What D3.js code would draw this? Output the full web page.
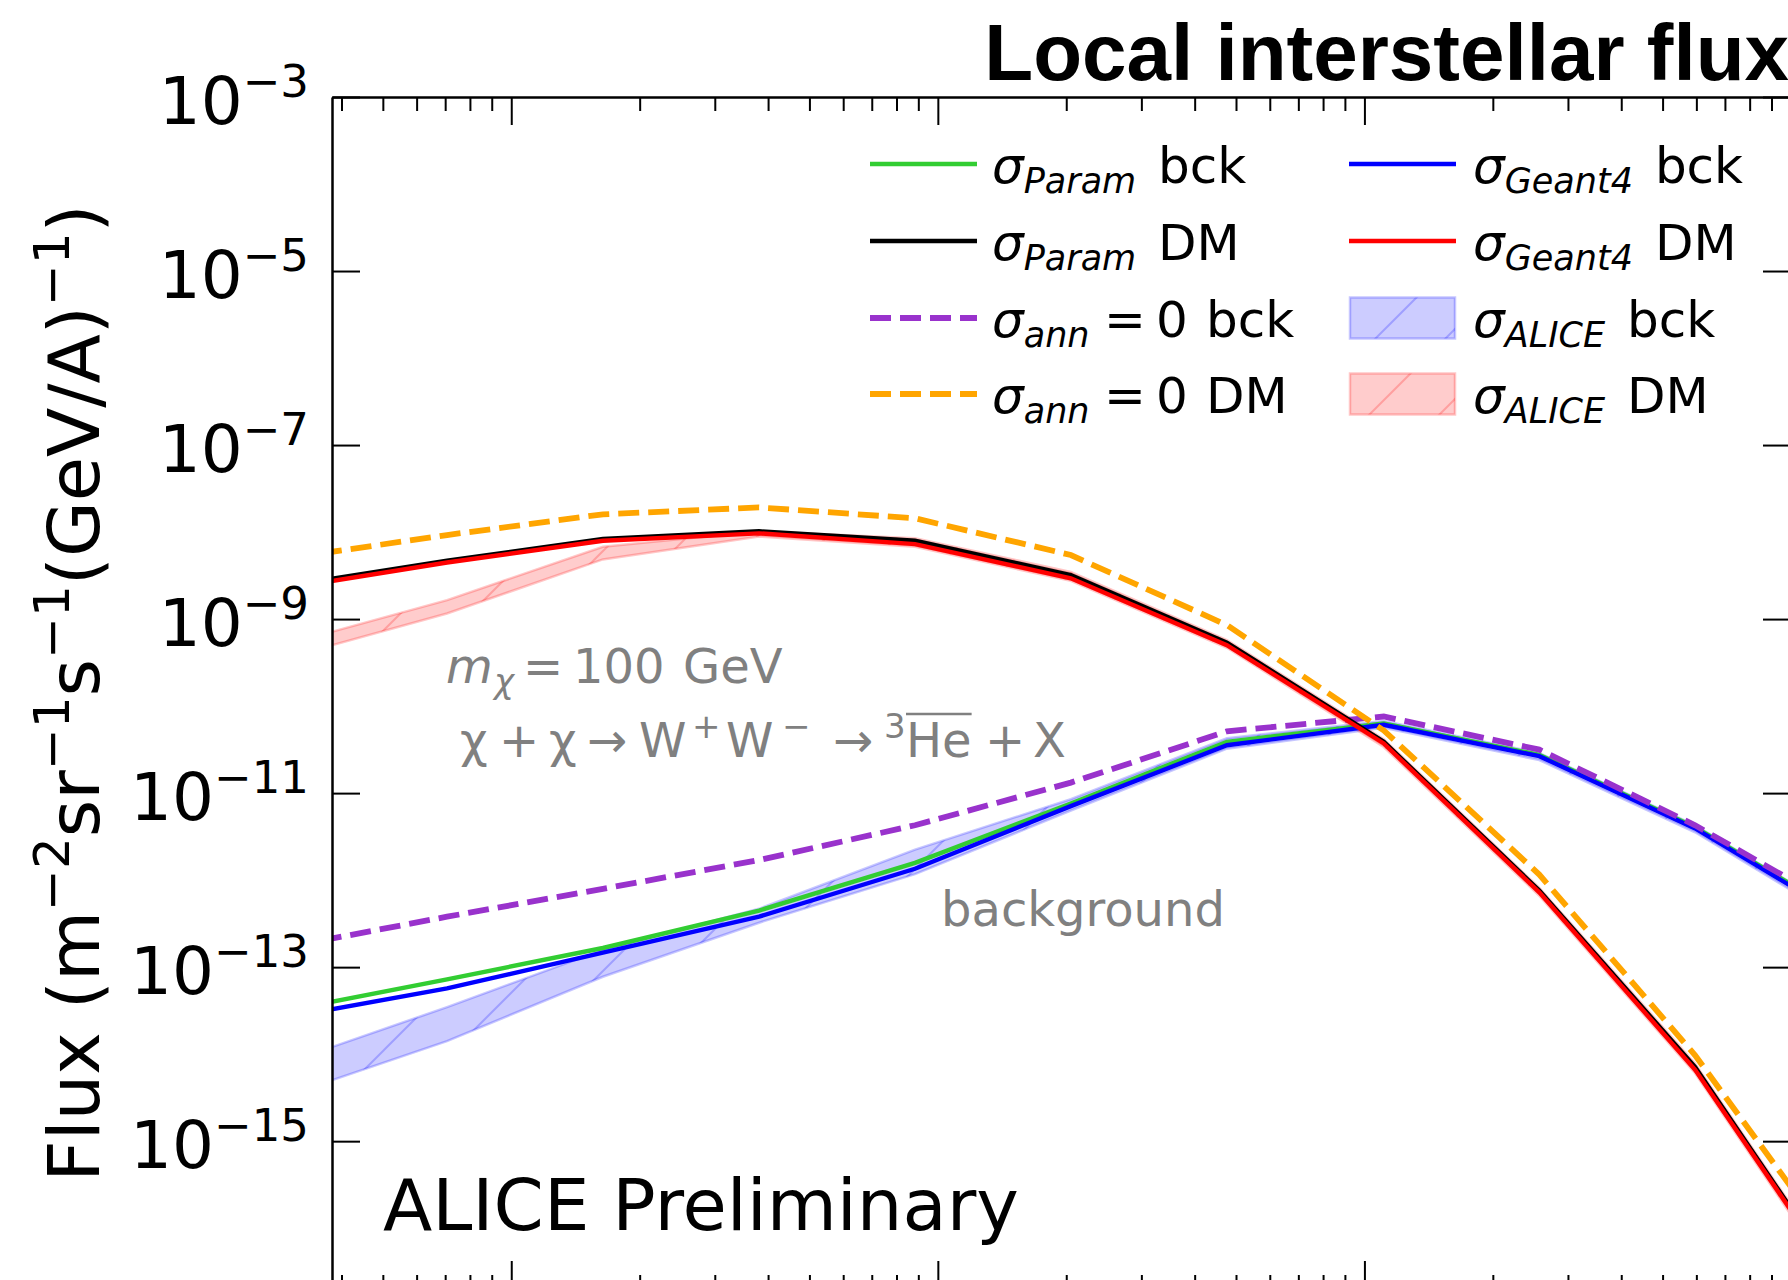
<!DOCTYPE html>
<html>
<head>
<meta charset="utf-8">
<script src="https://cdn.jsdelivr.net/npm/d3@7"></script>
<style>
  html, body { margin: 0; padding: 0; background: #fff; }
  svg { display: block; }
</style>
</head>
<body>
<script>
// Kinetic energy per nucleon (GeV/A) of the flux points
const energies = [0.0305, 0.0707, 0.164, 0.381, 0.884, 2.05, 4.76, 11.1, 25.7, 59.6, 138];

// Background (secondary) anti-3He flux, m^-2 sr^-1 s^-1 (GeV/A)^-1
const paramBck   = [3.24e-14, 7.24e-14, 1.66e-13, 4.47e-13, 1.58e-12, 7.59e-12, 3.89e-11, 6.31e-11, 2.75e-11, 4.07e-12, 3.47e-13];
const geant4Bck  = [2.70e-14, 5.69e-14, 1.47e-13, 3.80e-13, 1.35e-12, 7.08e-12, 3.55e-11, 6.10e-11, 2.66e-11, 3.93e-12, 3.31e-13];
const annZeroBck = [1.74e-13, 3.80e-13, 7.94e-13, 1.70e-12, 4.27e-12, 1.32e-11, 5.13e-11, 7.59e-11, 3.16e-11, 4.27e-12, 4.07e-13];
const aliceBckLow  = [3.47e-15, 1.41e-14, 7.76e-14, 3.24e-13, 1.17e-12, 6.31e-12, 3.24e-11, 5.62e-11, 2.40e-11, 3.55e-12, 2.95e-13];
const aliceBckHigh = [8.32e-15, 3.47e-14, 1.58e-13, 4.68e-13, 2.24e-12, 8.51e-12, 4.27e-11, 6.76e-11, 2.88e-11, 4.27e-12, 3.63e-13];

// Dark-matter (m_chi = 100 GeV, W+W-) anti-3He flux
const paramDM   = [2.45e-9, 4.68e-9, 8.32e-9, 1.02e-8, 7.94e-9, 3.21e-9, 5.37e-10, 3.89e-11, 7.59e-13, 7.08e-15, 1.66e-17];
const geant4DM  = [2.30e-9, 4.47e-9, 7.94e-9, 9.66e-9, 7.28e-9, 2.94e-9, 5.01e-10, 3.72e-11, 7.24e-13, 6.61e-15, 1.58e-17];
const annZeroDM = [5.07e-9, 9.25e-9, 1.60e-8, 1.92e-8, 1.44e-8, 5.45e-9, 8.53e-10, 5.25e-11, 1.16e-12, 9.70e-15, 3.39e-17];
const aliceDMLow  = [3.72e-10, 1.16e-9, 4.85e-9, 8.91e-9, 6.76e-9, 2.75e-9, 4.68e-10, 3.39e-11, 6.61e-13, 6.03e-15, 1.38e-17];
const aliceDMHigh = [5.31e-10, 1.65e-9, 6.78e-9, 1.02e-8, 8.51e-9, 3.47e-9, 5.75e-10, 4.17e-11, 8.13e-13, 7.76e-15, 1.82e-17];

// Axis ticks
const yTicks = [1e-3, 1e-5, 1e-7, 1e-9, 1e-11, 1e-13, 1e-15];
const yTickExponents = ["\u22123", "\u22125", "\u22127", "\u22129", "\u221211", "\u221213", "\u221215"];
const xMajorTicks = [0.1, 1, 10, 100];

// ---------------------------------------------------------------------------
const W = 1788, H = 1280;
const plotL = 332, plotR = 1791, plotT = 97, plotB = 1289;

const x = d3.scaleLog().domain([0.038, 100]).range([plotL, plotR]);
const y = d3.scaleLog().domain([2e-17, 1e-3]).range([plotB, plotT]);

const xMinorTicks = [];
for (const dec of [0.01, 0.1, 1, 10]) {
  for (let m = 2; m <= 9; m++) {
    const v = m * dec;
    if (v >= x.domain()[0] && v <= x.domain()[1]) xMinorTicks.push(v);
  }
}

const svg = d3.select("body").append("svg")
  .attr("width", W).attr("height", H)
  .attr("font-family", "'DejaVu Sans', sans-serif");

const defs = svg.append("defs");
defs.append("clipPath").attr("id", "plotClip")
  .append("rect").attr("x", plotL).attr("y", plotT)
  .attr("width", plotR - plotL).attr("height", plotB - plotT);

// diagonal "/" hatching in screen space
function hatch(id, color) {
  const p = defs.append("pattern").attr("id", id)
    .attr("patternUnits", "userSpaceOnUse")
    .attr("x", 34).attr("y", 0).attr("width", 70).attr("height", 70);
  p.append("path")
    .attr("d", "M-3,3 L3,-3 M0,70 L70,0 M67,73 L73,67")
    .attr("stroke", color).attr("stroke-width", 2).attr("fill", "none");
}
hatch("hatchBlue", "rgba(0,0,255,0.22)");
hatch("hatchRed", "rgba(255,0,0,0.22)");

const bandStyles = {
  bck: { fill: "rgba(0,0,255,0.2)", edge: "rgba(0,0,255,0.22)", hatch: "url(#hatchBlue)" },
  dm:  { fill: "rgba(255,0,0,0.2)", edge: "rgba(255,0,0,0.22)", hatch: "url(#hatchRed)" }
};

const plot = svg.append("g").attr("clip-path", "url(#plotClip)");

// ---- uncertainty bands --------------------------------------------------
const area = d3.area()
  .x((d, i) => x(energies[i]))
  .y0(d => y(d[0]))
  .y1(d => y(d[1]));

[[d3.zip(aliceBckLow, aliceBckHigh), bandStyles.bck],
 [d3.zip(aliceDMLow, aliceDMHigh), bandStyles.dm]].forEach(([band, st]) => {
  plot.append("path").datum(band).attr("d", area)
    .attr("fill", st.fill).attr("stroke", st.edge).attr("stroke-width", 2.5);
  plot.append("path").datum(band).attr("d", area)
    .attr("fill", st.hatch).attr("stroke", "none");
});

// ---- flux curves --------------------------------------------------------
const line = d3.line().x((d, i) => x(energies[i])).y(d => y(d));

const SOLID = 4.4, DASHED = 5.8, DASH = "21,9";
const curves = [
  { values: paramBck,   color: "#32cd32", width: SOLID,  dash: null },
  { values: geant4Bck,  color: "#0000ff", width: SOLID,  dash: null },
  { values: annZeroBck, color: "#9932cc", width: DASHED, dash: DASH },
  { values: paramDM,    color: "#000000", width: SOLID,  dash: null },
  { values: geant4DM,   color: "#ff0000", width: SOLID,  dash: null },
  { values: annZeroDM,  color: "#ffa500", width: DASHED, dash: DASH }
];
curves.forEach(c => {
  plot.append("path").datum(c.values).attr("d", line)
    .attr("fill", "none").attr("stroke", c.color)
    .attr("stroke-width", c.width)
    .attr("stroke-dasharray", c.dash)
    .attr("stroke-linejoin", "miter");
});

// ---- axes (ticks pointing inward on all four sides) ---------------------
function styleAxis(g) {
  g.selectAll(".domain").attr("stroke", "#000").attr("stroke-width", 2.5);
  g.selectAll(".tick line").attr("stroke", "#000").attr("stroke-width", 2);
}
function addX(axisFn, ty) {
  svg.append("g").attr("transform", `translate(0,${ty})`)
    .call(axisFn(x).tickValues(xMajorTicks).tickSize(-28).tickSizeOuter(0).tickFormat(""))
    .call(styleAxis);
  svg.append("g").attr("transform", `translate(0,${ty})`)
    .call(axisFn(x).tickValues(xMinorTicks).tickSize(-14).tickSizeOuter(0).tickFormat(""))
    .call(g => g.select(".domain").remove())
    .call(styleAxis);
}
addX(d3.axisTop, plotT);
addX(d3.axisBottom, plotB);

svg.append("g").attr("transform", `translate(${plotL},0)`)
  .call(d3.axisLeft(y).tickValues(yTicks).tickSize(-28).tickSizeOuter(0).tickFormat(""))
  .call(styleAxis);
svg.append("g").attr("transform", `translate(${plotR},0)`)
  .call(d3.axisRight(y).tickValues(yTicks).tickSize(-28).tickSizeOuter(0).tickFormat(""))
  .call(styleAxis);

// y tick labels 10^{-n}
yTicks.forEach((t, i) => {
  const txt = svg.append("text")
    .attr("x", plotL - 23).attr("y", y(t) + 27)
    .attr("text-anchor", "end").attr("font-size", 66).attr("fill", "#000");
  txt.append("tspan").text("10");
  txt.append("tspan").attr("font-size", 45).attr("dy", -27).text(yTickExponents[i]);
});

// y axis title
{
  const fs = 72, sup = 50, raise = 30;
  const t = svg.append("text")
    .attr("transform", `translate(99,${(plotT + plotB) / 2}) rotate(-90)`)
    .attr("text-anchor", "middle").attr("font-size", fs).attr("fill", "#000");
  const parts = [["Flux (m", 0], ["\u22122", 1], ["sr", 0], ["\u22121", 1], ["s", 0],
                 ["\u22121", 1], ["(GeV/A)", 0], ["\u22121", 1], [")", 0]];
  let up = false;
  parts.forEach(([s, isSup]) => {
    const ts = t.append("tspan").text(s);
    if (isSup && !up) { ts.attr("dy", -raise).attr("font-size", sup); up = true; }
    else if (!isSup && up) { ts.attr("dy", raise); up = false; }
  });
}

// title
svg.append("text")
  .attr("x", 1789).attr("y", 80).attr("text-anchor", "end")
  .attr("font-family", "'Liberation Sans', Arial, sans-serif")
  .attr("font-weight", "bold").attr("font-size", 80).attr("fill", "#000")
  .text("Local interstellar flux");

// ---- legend -------------------------------------------------------------
const legendRows = [164, 241, 318, 394];
const legendCols = [{ hx: 870, tx: 992 }, { hx: 1349, tx: 1473 }];
const legendItems = [
  { col: 0, row: 0, kind: "line", color: "#32cd32", sub: "Param", tail: "bck" },
  { col: 0, row: 1, kind: "line", color: "#000000", sub: "Param", tail: "DM" },
  { col: 0, row: 2, kind: "dash", color: "#9932cc", sub: "ann", eq: true, tail: "bck" },
  { col: 0, row: 3, kind: "dash", color: "#ffa500", sub: "ann", eq: true, tail: "DM" },
  { col: 1, row: 0, kind: "line", color: "#0000ff", sub: "Geant4", tail: "bck" },
  { col: 1, row: 1, kind: "line", color: "#ff0000", sub: "Geant4", tail: "DM" },
  { col: 1, row: 2, kind: "band", band: bandStyles.bck, sub: "ALICE", tail: "bck" },
  { col: 1, row: 3, kind: "band", band: bandStyles.dm, sub: "ALICE", tail: "DM" }
];
const legend = svg.append("g");
legendItems.forEach(it => {
  const c = legendCols[it.col], ry = legendRows[it.row];
  if (it.kind === "band") {
    legend.append("rect").attr("x", c.hx + 1).attr("y", ry - 20.5)
      .attr("width", 105).attr("height", 41)
      .attr("fill", it.band.fill).attr("stroke", it.band.edge).attr("stroke-width", 2.5);
    legend.append("rect").attr("x", c.hx + 1).attr("y", ry - 20.5)
      .attr("width", 105).attr("height", 41).attr("fill", it.band.hatch);
  } else {
    legend.append("line").attr("x1", c.hx).attr("x2", c.hx + 107)
      .attr("y1", ry).attr("y2", ry)
      .attr("stroke", it.color).attr("stroke-width", it.kind === "dash" ? DASHED : SOLID)
      .attr("stroke-dasharray", it.kind === "dash" ? DASH : null);
  }
  const t = legend.append("text").attr("x", c.tx).attr("y", ry + 18.5)
    .attr("font-size", 50).attr("fill", "#000");
  t.append("tspan").attr("font-style", "italic").text("\u03c3");
  t.append("tspan").attr("font-style", "italic").attr("font-size", 35).attr("dy", 10).text(it.sub);
  if (it.eq) {
    t.append("tspan").attr("x", c.tx + 112).attr("dy", -10).text("=");
    t.append("tspan").attr("x", c.tx + 164).text("0");
    t.append("tspan").attr("x", c.tx + 214).text(it.tail);
  } else {
    t.append("tspan").attr("dy", -10).attr("dx", 6).text(" " + it.tail);
  }
});

// ---- annotations --------------------------------------------------------
const gray = "#808080";
{
  const t = svg.append("text").attr("y", 683).attr("font-size", 48).attr("fill", gray);
  t.append("tspan").attr("x", 446).attr("font-style", "italic").text("m");
  t.append("tspan").attr("x", 494).attr("dy", 10).attr("font-size", 34).attr("font-style", "italic").text("\u03c7");
  t.append("tspan").attr("x", 523).attr("dy", -10).text("=");
  t.append("tspan").attr("x", 573).text("100");
  t.append("tspan").attr("x", 683).text("GeV");
}
{
  const base = 757, supY = 738;
  const t = svg.append("text").attr("font-size", 48).attr("fill", gray);
  const seg = (s, xx, yy, fs) => t.append("tspan").attr("x", xx).attr("y", yy)
    .attr("font-size", fs || 48).text(s);
  seg("\u03c7", 460, base);
  seg("+", 499, base);
  seg("\u03c7", 549, base);
  seg("\u2192", 587, base);
  seg("W", 639, base);
  seg("+", 692, supY, 34);
  seg("W", 726, base);
  seg("\u2212", 782, supY, 34);
  seg("\u2192", 833, base);
  seg("3", 884, supY, 34);
  const he = seg("He", 906, base);
  seg("+", 985, base);
  seg("X", 1033, base);
  // overline above "He"
  const n = he.node();
  const s0 = n.getStartPositionOfChar(0).x, s1 = n.getEndPositionOfChar(1).x;
  svg.append("line").attr("x1", s0).attr("x2", s1)
    .attr("y1", base - 43).attr("y2", base - 43)
    .attr("stroke", gray).attr("stroke-width", 2.5);
}
svg.append("text").attr("x", 941).attr("y", 926)
  .attr("font-size", 48).attr("fill", gray).text("background");

svg.append("text").attr("x", 383).attr("y", 1230)
  .attr("font-size", 72).attr("fill", "#000").text("ALICE Preliminary");
</script>
</body>
</html>
